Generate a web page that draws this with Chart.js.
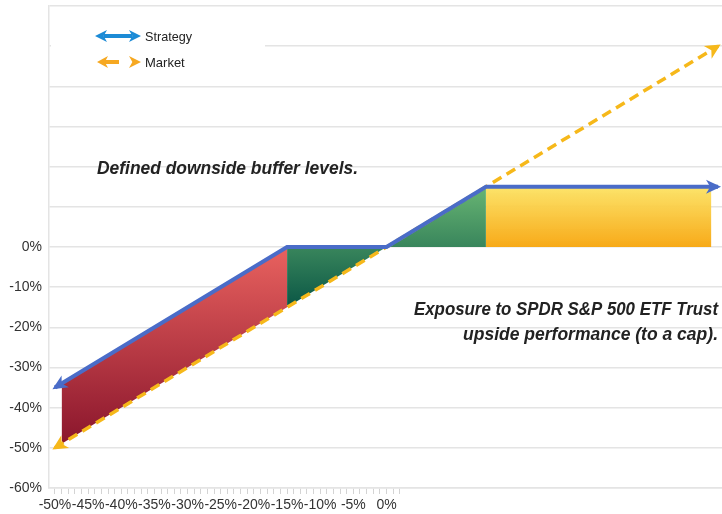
<!DOCTYPE html>
<html>
<head>
<meta charset="utf-8">
<script src="https://cdn.jsdelivr.net/npm/chart.js@4.4.1/dist/chart.umd.min.js"></script>
<style>
  html, body { margin: 0; padding: 0; background: #fff; }
  #wrap { width: 722px; height: 514px; }
</style>
</head>
<body>
<div id="wrap"><canvas id="myChart"></canvas></div>
<script>
// payoff lines (x = index return %, y = result %)
const strategyX = [-50, -15, 0, 15, 50];
const strategyY = [-35, 0, 0, 15, 15];
const marketX = [-50, 50];
const marketY = [-50, 50];

// shaded regions
const redX = [-49, -15];
const redTop = [-34, 0];
const redBottom = [-49, -15];
const greenLeftX = [-15, 0];
const greenLeftTop = [0, 0];
const greenLeftBottom = [-15, 0];
const greenRightX = [0, 15];
const greenRightTop = [0, 15];
const yellowX = [15, 49];
const yellowTop = [15, 15];

// axis ticks
const xTicks = [-50, -49, -48, -47, -46, -45, -44, -43, -42, -41, -40, -39, -38, -37, -36, -35, -34, -33, -32, -31, -30,
  -29, -28, -27, -26, -25, -24, -23, -22, -21, -20, -19, -18, -17, -16, -15, -14, -13, -12, -11, -10,
  -9, -8, -7, -6, -5, -4, -3, -2, -1, 0, 1, 2];
const xTickLabels = [-50, -45, -40, -35, -30, -25, -20, -15, -10, -5, 0];
const yTicks = [-60, -50, -40, -30, -20, -10, 0, 10, 20, 30, 40, 50, 60];
const yTickLabels = [-60, -50, -40, -30, -20, -10, 0];

function pts(xs, ys) {
  return xs.map((x, i) => ({ x: x, y: ys[i] }));
}

function grad(top, bottom, c1, c2) {
  return function (context) {
    const chart = context.chart;
    if (!chart.chartArea) return c1;
    const y = chart.scales.y;
    const g = chart.ctx.createLinearGradient(0, y.getPixelForValue(top), 0, y.getPixelForValue(bottom));
    g.addColorStop(0, c1);
    g.addColorStop(1, c2);
    return g;
  };
}

const clear = 'rgba(0,0,0,0)';
const redFill = grad(0, -48, '#e9625f', '#8c172d');
const greenFill = grad(15, -15, '#68b573', '#0a5645');
const yellowFill = grad(15, 0, 'rgba(252,226,98,0.95)', 'rgba(247,167,17,0.97)');

// notched arrow head, tip at (tipX, tipY)
function arrow(ctx, tipX, tipY, ang, color, len, half) {
  ctx.save();
  ctx.translate(tipX, tipY);
  ctx.rotate(ang);
  ctx.beginPath();
  ctx.moveTo(0, 0);
  ctx.lineTo(-len, -half);
  ctx.lineTo(-len * 0.72, 0);
  ctx.lineTo(-len, half);
  ctx.closePath();
  ctx.fillStyle = color;
  ctx.fill();
  ctx.restore();
}

const decor = {
  id: 'decor',
  beforeDatasetsDraw(chart) {
    const ctx = chart.ctx;
    ctx.save();
    ctx.fillStyle = '#fff';
    ctx.fillRect(51, 12, 214, 68);
    ctx.restore();
  },
  afterDatasetsDraw(chart) {
    const ctx = chart.ctx;
    // arrow heads on both ends of the two lines
    [[0, '#4a6cc8', 15, 7], [1, '#f6b81a', 15, 7.5]].forEach(function (d) {
      const p = chart.getDatasetMeta(d[0]).data;
      const a = p[0], b = p[1];
      const e = p[p.length - 1], f = p[p.length - 2];
      const a1 = Math.atan2(a.y - b.y, a.x - b.x);
      const a2 = Math.atan2(e.y - f.y, e.x - f.x);
      arrow(ctx, a.x + 3 * Math.cos(a1), a.y + 3 * Math.sin(a1), a1, d[1], d[2], d[3]);
      arrow(ctx, e.x + 3 * Math.cos(a2), e.y + 3 * Math.sin(a2), a2, d[1], d[2], d[3]);
    });

    // legend
    ctx.save();
    ctx.strokeStyle = '#1c8bd6';
    ctx.lineWidth = 4;
    ctx.beginPath();
    ctx.moveTo(104, 36);
    ctx.lineTo(132, 36);
    ctx.stroke();
    arrow(ctx, 95, 36, Math.PI, '#1c8bd6', 12, 6);
    arrow(ctx, 141, 36, 0, '#1c8bd6', 12, 6);
    ctx.strokeStyle = '#f6a821';
    ctx.beginPath();
    ctx.moveTo(105, 62);
    ctx.lineTo(119, 62);
    ctx.stroke();
    arrow(ctx, 97, 62, Math.PI, '#f6a821', 11, 6);
    arrow(ctx, 141, 62, 0, '#f6a821', 12, 6);
    ctx.fillStyle = '#222';
    ctx.font = '13px "Liberation Sans", Arial, sans-serif';
    ctx.textBaseline = 'middle';
    ctx.textAlign = 'left';
    ctx.fillText('Strategy', 145, 37, 47);
    ctx.fillText('Market', 145, 63, 41);

    // notes
    ctx.font = 'italic bold 18px "Liberation Sans", Arial, sans-serif';
    ctx.textBaseline = 'alphabetic';
    ctx.fillText('Defined downside buffer levels.', 97, 174, 261);
    ctx.textAlign = 'right';
    ctx.fillText('Exposure to SPDR S&P 500 ETF Trust', 718, 315, 304);
    ctx.fillText('upside performance (to a cap).', 718, 340, 255);
    ctx.restore();
  }
};

const ctx = document.getElementById('myChart');

new Chart(ctx, {
  type: 'line',
  data: {
    datasets: [{
      label: 'Strategy',
      data: pts(strategyX, strategyY),
      borderColor: '#4a6cc8',
      borderWidth: 4,
      fill: false,
      order: 0
    }, {
      label: 'Market',
      data: pts(marketX, marketY),
      borderColor: '#f6b81a',
      borderWidth: 3.5,
      borderDash: [10, 6],
      fill: false,
      order: 1
    }, {
      data: pts(redX, redTop),
      borderColor: clear,
      backgroundColor: redFill,
      fill: '+1',
      order: 2
    }, {
      data: pts(redX, redBottom),
      borderColor: clear,
      fill: false,
      order: 3
    }, {
      data: pts(greenLeftX, greenLeftTop),
      borderColor: clear,
      backgroundColor: greenFill,
      fill: '+1',
      order: 4
    }, {
      data: pts(greenLeftX, greenLeftBottom),
      borderColor: clear,
      fill: false,
      order: 5
    }, {
      data: pts(greenRightX, greenRightTop),
      borderColor: clear,
      backgroundColor: greenFill,
      fill: { value: 0 },
      order: 6
    }, {
      data: pts(yellowX, yellowTop),
      borderColor: clear,
      backgroundColor: yellowFill,
      fill: { value: 0 },
      order: 7
    }]
  },
  options: {
    responsive: true,
    maintainAspectRatio: false,
    animation: false,
    layout: { padding: { top: 6, right: 0, left: 0, bottom: 0 } },
    elements: {
      point: { radius: 0 },
      line: { tension: 0 }
    },
    plugins: {
      legend: { display: false },
      tooltip: { enabled: false }
    },
    scales: {
      x: {
        type: 'linear',
        min: -50.9,
        max: 50.6,
        afterBuildTicks: function (s) {
          s.ticks = xTicks.map(v => ({ value: v }));
        },
        afterFit: function (s) {
          s.height = 26;
        },
        ticks: {
          autoSkip: false,
          maxRotation: 0,
          minRotation: 0,
          padding: 3,
          color: '#333',
          font: { size: 14, family: '"Liberation Sans", Arial, sans-serif' },
          callback: v => xTickLabels.includes(v) ? v + '%' : ''
        },
        grid: {
          drawOnChartArea: false,
          drawTicks: true,
          tickLength: 6,
          tickColor: '#d4d4d4'
        },
        border: { color: '#e4e4e4', width: 1.5 }
      },
      y: {
        min: -60,
        max: 60,
        afterBuildTicks: function (s) {
          s.ticks = yTicks.map(v => ({ value: v }));
        },
        afterFit: function (s) {
          s.width = 49;
          s.paddingTop = 0;
        },
        ticks: {
          padding: 7,
          color: '#333',
          font: { size: 14, family: '"Liberation Sans", Arial, sans-serif' },
          callback: v => yTickLabels.includes(v) ? v + '%' : ''
        },
        grid: {
          color: '#e4e4e4',
          lineWidth: 1.5,
          drawTicks: false
        },
        border: { color: '#e4e4e4', width: 1.5 }
      }
    }
  },
  plugins: [decor]
});
</script>
</body>
</html>
